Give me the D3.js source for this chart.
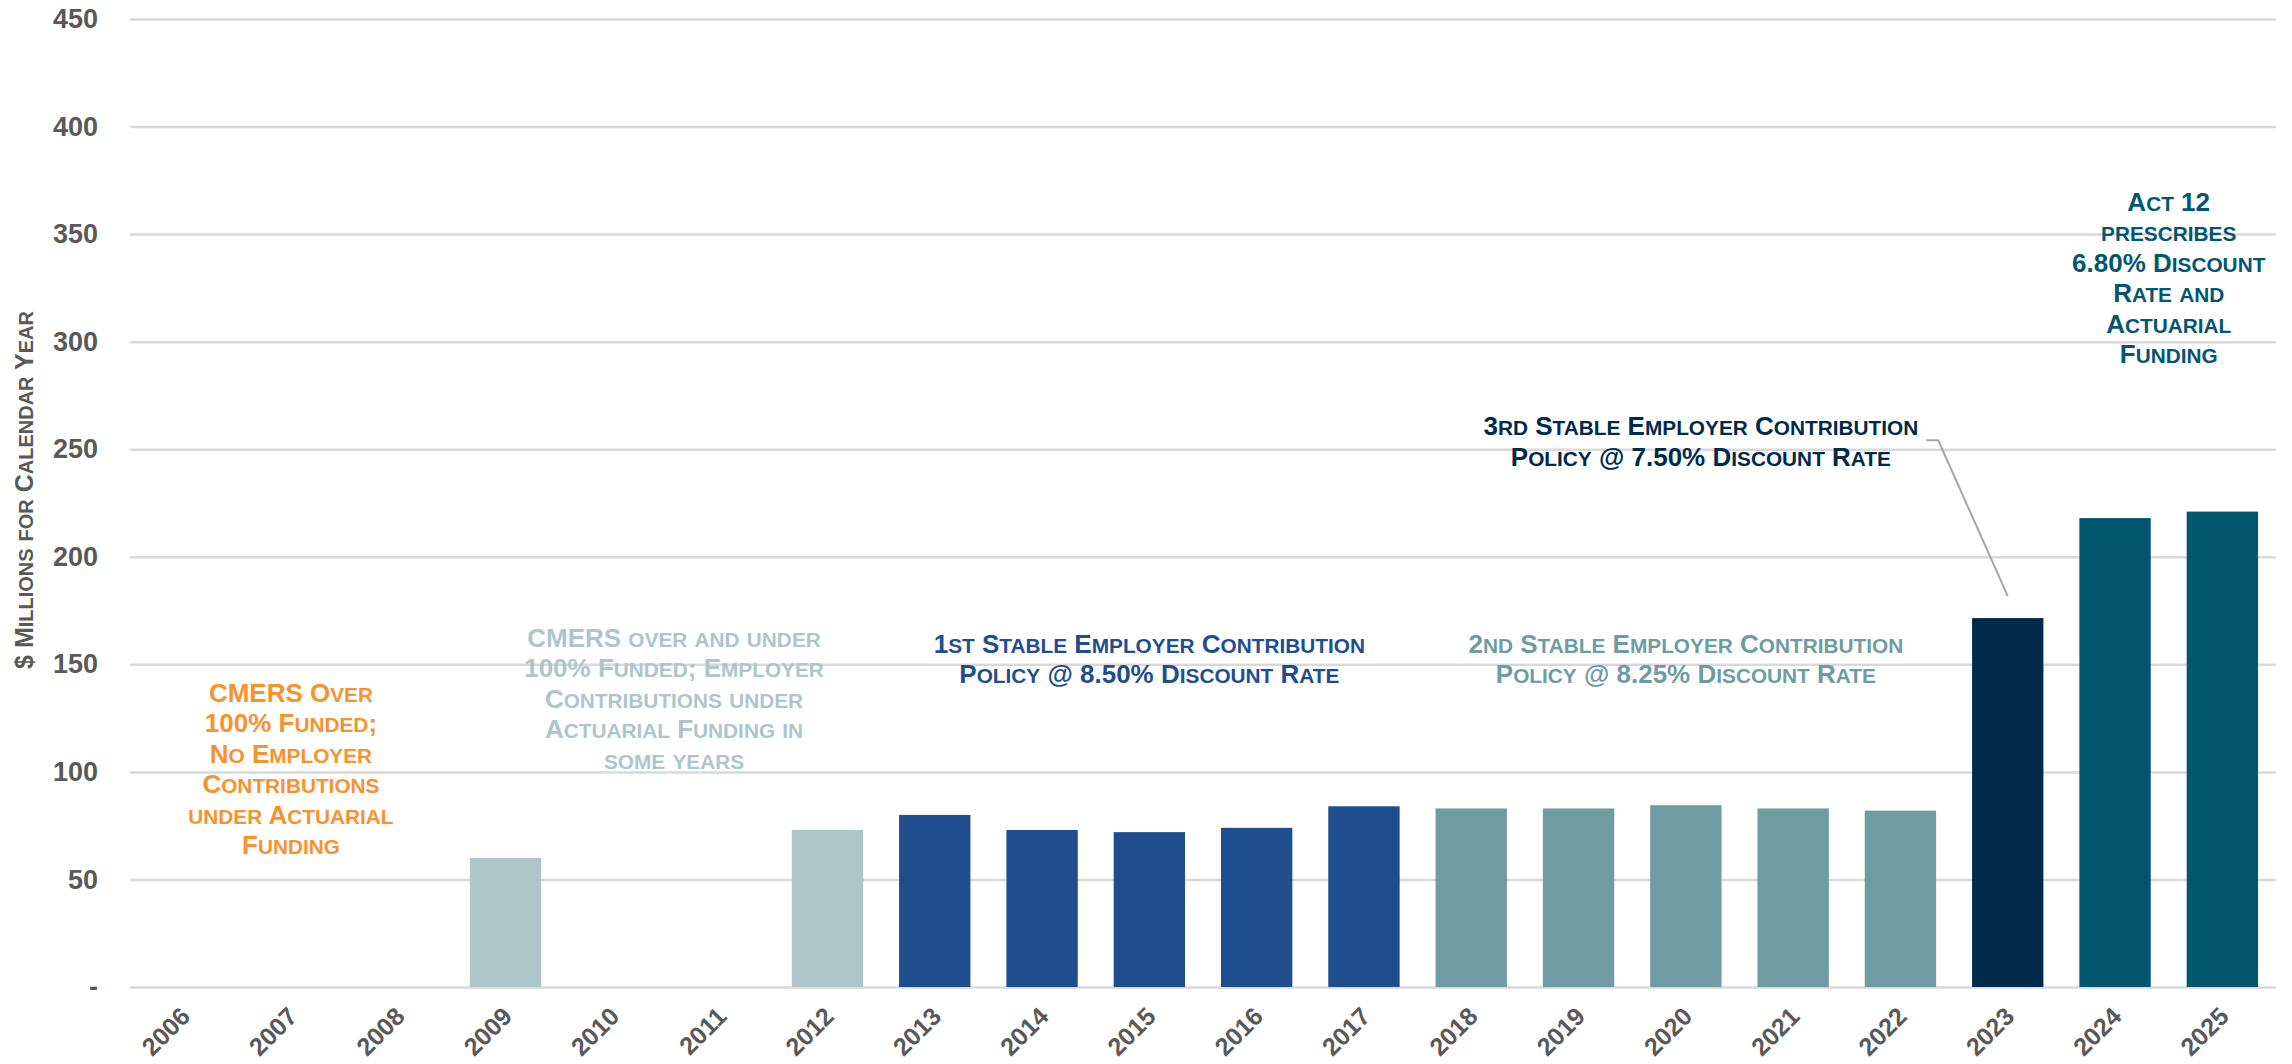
<!DOCTYPE html>
<html>
<head>
<meta charset="utf-8">
<script src="https://cdn.jsdelivr.net/npm/d3@7"></script>
<style>
  body { margin: 0; background: #fff; }
  svg { display: block; font-family: "Liberation Sans", Arial, sans-serif; }
</style>
</head>
<body>
<div id="chart"></div>
<script>
// data
const years = ["2006","2007","2008","2009","2010","2011","2012","2013","2014","2015",
               "2016","2017","2018","2019","2020","2021","2022","2023","2024","2025"];
const contributions = [0, 0, 0, 60, 0, 0, 73, 80, 73, 72, 74, 84, 83, 83, 84.5, 83, 82, 171.5, 218, 221];
const periods = ["pre","pre","pre","mixed","mixed","mixed","mixed","first","first","first",
                 "first","first","second","second","second","second","second","third","act12","act12"];
const yTicks = [0, 50, 100, 150, 200, 250, 300, 350, 400, 450];

const periodColor = {
    pre: "#f7922f",
    mixed: "#adc6c9",
    first: "#1f4e8f",
    second: "#6f9ba3",
    third: "#012a4a",
    act12: "#02566f"
};

// annotation text, one array of lines per period
const notePre = ["CMERS Over", "100% Funded;", "No Employer", "Contributions", "under Actuarial", "Funding"];
const noteMixed = ["CMERS over and under", "100% Funded; Employer", "Contributions under", "Actuarial Funding in", "some years"];
const noteFirst = ["1st Stable Employer Contribution", "Policy @ 8.50% Discount Rate"];
const noteSecond = ["2nd Stable Employer Contribution", "Policy @ 8.25% Discount Rate"];
const noteThird = ["3rd Stable Employer Contribution", "Policy @ 7.50% Discount Rate"];
const noteAct12 = ["Act 12", "prescribes", "6.80% Discount", "Rate and", "Actuarial", "Funding"];

const W = 2292, H = 1064;
const margin = { top: 19, right: 16, bottom: 77, left: 130 };
const width = W - margin.left - margin.right;
const height = H - margin.top - margin.bottom;

const svg = d3.select("#chart").append("svg")
    .attr("width", W)
    .attr("height", H);

const g = svg.append("g")
    .attr("transform", `translate(${margin.left},${margin.top})`);

const x = d3.scaleBand()
    .domain(years)
    .range([0, width])
    .paddingInner(0.335)
    .paddingOuter(0.1675);

const y = d3.scaleLinear()
    .domain([0, 450])
    .range([height, 0]);

// centre of a (possibly fractional) year position
const yearX = yr => x.step() * (yr - 2006 + 0.5);

// gridlines
g.append("g")
    .attr("class", "grid")
    .call(d3.axisLeft(y).tickValues(yTicks).tickSize(-width).tickFormat(""))
    .call(a => a.select(".domain").remove())
    .call(a => a.selectAll("line").attr("stroke", "#d9d9d9").attr("stroke-width", 2.5));

// bars
g.selectAll(".bar")
    .data(years.map((yr, i) => ({ yr, v: contributions[i], p: periods[i] })).filter(d => d.v > 0))
    .enter()
    .append("rect")
    .attr("class", "bar")
    .attr("x", d => x(d.yr))
    .attr("y", d => y(d.v))
    .attr("width", x.bandwidth())
    .attr("height", d => y(0) - y(d.v))
    .attr("fill", d => periodColor[d.p]);

// y axis labels
g.append("g")
    .call(d3.axisLeft(y).tickValues(yTicks).tickSize(0).tickPadding(32)
        .tickFormat(d => d === 0 ? "-" : d))
    .call(a => a.select(".domain").remove())
    .selectAll("text")
    .attr("fill", "#595959")
    .style("font-size", "27px")
    .style("font-weight", "bold")
    .style("font-family", "'Liberation Sans', Arial, sans-serif");

// x axis labels
g.append("g")
    .attr("transform", `translate(0,${height})`)
    .call(d3.axisBottom(x).tickSize(0).tickFormat(d => d))
    .call(a => a.select(".domain").remove())
    .selectAll("text")
    .attr("fill", "#595959")
    .attr("text-anchor", "end")
    .attr("dy", null)
    .attr("y", 0)
    .attr("transform", "translate(8,31) rotate(-45)")
    .style("font-size", "25px")
    .style("font-weight", "bold")
    .style("font-family", "'Liberation Sans', Arial, sans-serif");

// small-caps writer: lowercase letters drawn as capitals at 80%
function smallCaps(textSel, str, size) {
    const runs = str.match(/[a-z]+|[^a-z]+/g);
    runs.forEach(r => {
        const low = /[a-z]/.test(r[0]);
        textSel.append("tspan")
            .attr("font-size", low ? size * 0.8 : size)
            .text(low ? r.toUpperCase() : r);
    });
}

function addNote(lines, yr, val, color) {
    const lineH = 30.5, size = 26;
    const grp = g.append("g").attr("class", "note");
    lines.forEach((ln, i) => {
        const t = grp.append("text")
            .attr("x", yearX(yr))
            .attr("y", y(val) + i * lineH)
            .attr("text-anchor", "middle")
            .attr("fill", color)
            .attr("font-weight", "bold")
            .attr("font-size", size);
        smallCaps(t, ln, size);
    });
    return grp;
}

addNote(notePre, 2007.0, 132.6, periodColor.pre);
addNote(noteMixed, 2010.57, 158.2, periodColor.mixed);
addNote(noteFirst, 2015.0, 155.4, periodColor.first);
addNote(noteSecond, 2020.0, 155.4, periodColor.second);
const third = addNote(noteThird, 2020.14, 256.5, periodColor.third);
addNote(noteAct12, 2024.5, 360.8, periodColor.act12);

// leader line from 3rd policy note to the 2023 bar
const firstLine = third.select("text").node().getBBox();
const lx0 = firstLine.x + firstLine.width + 8;
const ly0 = y(256.5) + 5;
const bx = x("2023") + x.bandwidth() / 2;
const by = y(contributions[years.indexOf("2023")]) - 22;
g.append("path")
    .attr("d", `M${lx0},${ly0} H${lx0 + 12} L${bx},${by}`)
    .attr("fill", "none")
    .attr("stroke", "#a6a6a6")
    .attr("stroke-width", 2);

// y axis title
const yt = svg.append("text")
    .attr("transform", `translate(33,490) rotate(-90)`)
    .attr("text-anchor", "middle")
    .attr("fill", "#595959")
    .attr("font-weight", "bold")
    .attr("font-size", 25);
smallCaps(yt, "$ Millions for Calendar Year", 25);
</script>
</body>
</html>
